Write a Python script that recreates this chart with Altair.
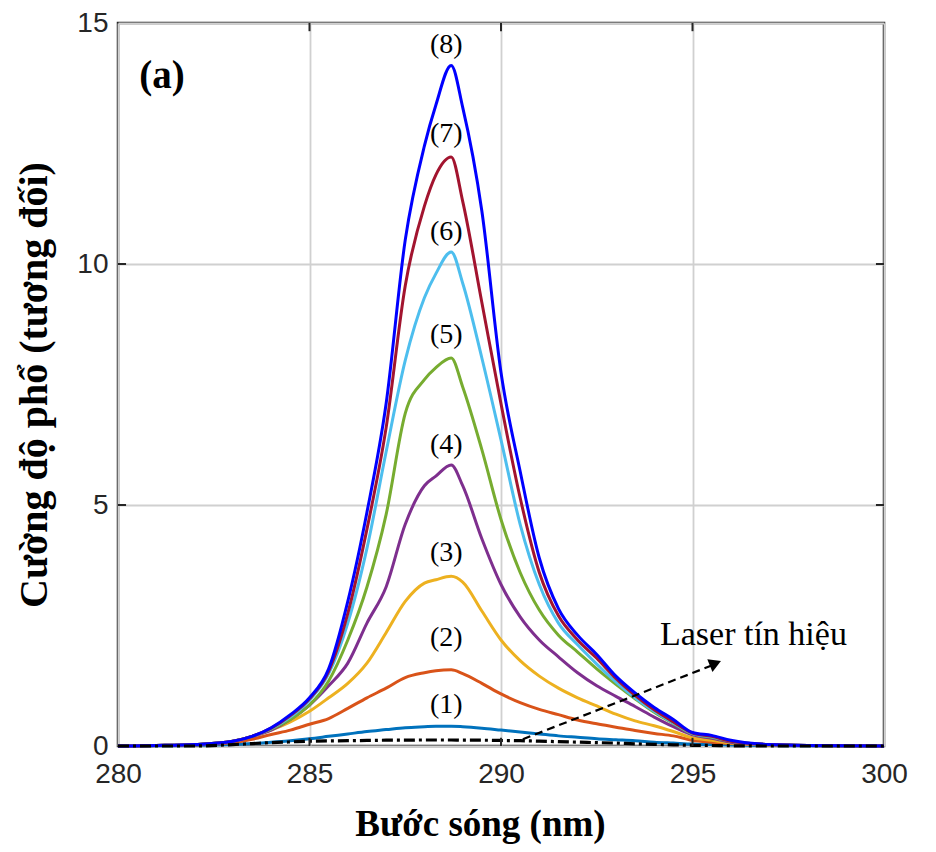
import altair as alt
import pandas as pd

# ---------------- data ----------------
wavelength = [280, 281, 282, 283, 283.5, 284, 284.5, 285, 285.5, 286, 286.5, 287, 287.5,
              288, 288.3, 288.7, 289, 289.5, 290, 290.5, 291, 291.5, 292, 292.5, 293,
              293.5, 294, 294.5, 295, 295.5, 296, 297, 298, 300]

c1 = [0, 0.005, 0.01, 0.03, 0.05, 0.08, 0.11, 0.15, 0.2, 0.25, 0.3, 0.34, 0.38,
      0.4, 0.41, 0.41, 0.4, 0.37, 0.33, 0.29, 0.25, 0.21, 0.18, 0.15, 0.13,
      0.11, 0.08, 0.06, 0.04, 0.03, 0.02, 0.01, 0.005, 0]
c2 = [0, 0.01, 0.02, 0.07, 0.14, 0.24, 0.33, 0.45, 0.57, 0.78, 1.0, 1.2, 1.42,
      1.52, 1.56, 1.58, 1.5, 1.3, 1.08, 0.9, 0.76, 0.65, 0.54, 0.46, 0.39,
      0.32, 0.26, 0.21, 0.12, 0.08, 0.05, 0.02, 0.01, 0]
c3 = [0, 0.01, 0.03, 0.1, 0.2, 0.33, 0.5, 0.72, 1.0, 1.3, 1.72, 2.35, 3.0,
      3.38, 3.45, 3.52, 3.4, 2.8, 2.2, 1.77, 1.45, 1.2, 1.0, 0.83, 0.66,
      0.52, 0.42, 0.3, 0.17, 0.12, 0.06, 0.02, 0.01, 0]
c4 = [0, 0.01, 0.03, 0.1, 0.2, 0.33, 0.55, 0.85, 1.25, 1.72, 2.55, 3.3, 4.6,
      5.4, 5.6, 5.83, 5.4, 4.3, 3.35, 2.68, 2.2, 1.85, 1.52, 1.25, 1.03,
      0.82, 0.6, 0.4, 0.23, 0.16, 0.08, 0.03, 0.01, 0]
c5 = [0, 0.01, 0.03, 0.1, 0.2, 0.35, 0.55, 0.85, 1.35, 2.2, 3.3, 4.8, 6.9,
      7.6, 7.85, 8.05, 7.45, 6.15, 4.7, 3.6, 2.82, 2.3, 1.95, 1.6, 1.28,
      0.98, 0.7, 0.47, 0.25, 0.18, 0.1, 0.03, 0.01, 0]
c6 = [0, 0.01, 0.03, 0.1, 0.2, 0.36, 0.6, 0.95, 1.5, 2.55, 4.1, 6.1, 8.0,
      9.3, 9.8, 10.25, 9.6, 8.05, 6.35, 4.6, 3.35, 2.55, 2.1, 1.7, 1.33,
      1.0, 0.72, 0.48, 0.26, 0.19, 0.1, 0.03, 0.01, 0]
c7 = [0, 0.01, 0.03, 0.1, 0.2, 0.37, 0.63, 0.98, 1.55, 2.75, 4.5, 6.6, 9.55,
      11.2, 11.85, 12.22, 11.3, 9.2, 7.1, 5.15, 3.6, 2.7, 2.2, 1.82, 1.4,
      1.05, 0.75, 0.5, 0.27, 0.2, 0.1, 0.03, 0.01, 0]
c8 = [0, 0.01, 0.03, 0.1, 0.2, 0.38, 0.65, 1.0, 1.6, 3.0, 4.85, 7.1, 10.5,
      12.45, 13.3, 14.12, 13.25, 11.1, 7.75, 5.7, 3.9, 2.85, 2.3, 1.9, 1.45,
      1.1, 0.8, 0.55, 0.28, 0.22, 0.12, 0.03, 0.01, 0]
laser = [0, 0, 0, 0.03, 0.05, 0.07, 0.085, 0.1, 0.105, 0.11, 0.115, 0.12, 0.12,
         0.125, 0.125, 0.125, 0.12, 0.12, 0.115, 0.11, 0.1, 0.09, 0.08, 0.07, 0.06,
         0.045, 0.035, 0.025, 0.015, 0.01, 0.005, 0, 0, 0]

series_names = ["1", "2", "3", "4", "5", "6", "7", "8"]
series_colors = ["#0072BD", "#D95319", "#EDB120", "#7E2F8E", "#77AC30", "#4DBEEE", "#A2142F", "#0000FF"]
series_values = [c1, c2, c3, c4, c5, c6, c7, c8]

label_texts = ["(1)", "(2)", "(3)", "(4)", "(5)", "(6)", "(7)", "(8)"]
label_x = [288.57] * 8
label_y = [0.845, 2.25, 4.0, 6.24, 8.53, 10.67, 12.69, 14.55]

x_ticks = [280, 285, 290, 295, 300]
y_ticks = [0, 5, 10, 15]

arrow_x = [290.57, 295.5]
arrow_y = [0.14, 1.67]
arrow_head = [295.55, 1.70]
annot_text = "Laser tín hiệu"
annot_pos = [294.15, 2.3]
panel_text = "(a)"
panel_pos = [281.15, 13.9]

# ---------------- build tables ----------------
rows = []
for name, vals in zip(series_names, series_values):
    for w, v in zip(wavelength, vals):
        rows.append({"w": w, "v": v, "s": name})
df = pd.DataFrame(rows)
df_laser = pd.DataFrame({"w": wavelength, "v": laser})
df_labels = pd.DataFrame({"w": label_x, "v": label_y, "t": label_texts})

SERIF = "Liberation Serif"
SANS = "Liberation Sans"
FRAME = "#262626"

xs = alt.Scale(domain=[280, 300], nice=False, zero=False)
ys = alt.Scale(domain=[0, 15], nice=False)

x_axis = alt.Axis(values=x_ticks, tickSize=0, domain=False, grid=True, gridColor="#d0d0d0",
                  gridWidth=1.8, labelFont=SANS, labelFontSize=28, labelColor=FRAME,
                  labelPadding=14, labelFlush=False, title="Bước sóng (nm)", titleFont=SERIF,
                  titleFontSize=37, titleFontWeight="bold", titleColor="black", titlePadding=18,
                  titleX=362)
y_axis = alt.Axis(values=y_ticks, tickSize=0, domain=False, grid=True, gridColor="#d0d0d0",
                  gridWidth=1.8, labelFont=SANS, labelFontSize=28, labelColor=FRAME,
                  labelPadding=10, labelFlush=False, title="Cường độ phổ (tương đối)", titleFont=SERIF,
                  titleFontSize=40, titleFontWeight="bold", titleColor="black", titlePadding=22)

lines = alt.Chart(df).mark_line(strokeWidth=3, interpolate="monotone").encode(
    x=alt.X("w:Q", scale=xs, axis=x_axis),
    y=alt.Y("v:Q", scale=ys, axis=y_axis),
    color=alt.Color("s:N", scale=alt.Scale(domain=series_names, range=series_colors), legend=None),
    order=alt.Order("w:Q"),
)

laser_line = alt.Chart(df_laser).mark_line(
    strokeWidth=3.2, color="black", strokeDash=[11, 4, 3, 4], interpolate="monotone"
).encode(x=alt.X("w:Q", scale=xs), y=alt.Y("v:Q", scale=ys))

labels = alt.Chart(df_labels).mark_text(font=SERIF, fontSize=28, color="black").encode(
    x=alt.X("w:Q", scale=xs), y=alt.Y("v:Q", scale=ys), text="t:N"
)

# inward ticks like MATLAB (box on)
xt_in = [t for t in x_ticks[1:-1]]
yt_in = [t for t in y_ticks[1:-1]]
tick_len_y = 0.17   # data units (~8 px)
tick_len_x = 0.21
df_xt = pd.DataFrame({"w": xt_in * 2, "v": [0] * len(xt_in) + [15] * len(xt_in),
                      "v2": [tick_len_y] * len(xt_in) + [15 - tick_len_y] * len(xt_in)})
df_yt = pd.DataFrame({"v": yt_in * 2, "w": [280] * len(yt_in) + [300] * len(yt_in),
                      "w2": [280 + tick_len_x] * len(yt_in) + [300 - tick_len_x] * len(yt_in)})
xt_marks = alt.Chart(df_xt).mark_rule(color=FRAME, strokeWidth=2).encode(
    x=alt.X("w:Q", scale=xs), y=alt.Y("v:Q", scale=ys), y2="v2:Q")
yt_marks = alt.Chart(df_yt).mark_rule(color=FRAME, strokeWidth=2).encode(
    y=alt.Y("v:Q", scale=ys), x=alt.X("w:Q", scale=xs), x2="w2:Q")

df_arrow = pd.DataFrame({"w": [arrow_x[0]], "v": [arrow_y[0]], "w2": [arrow_x[1]], "v2": [arrow_y[1]]})
arrow = alt.Chart(df_arrow).mark_rule(color="black", strokeWidth=2.2, strokeDash=[8, 5]).encode(
    x=alt.X("w:Q", scale=xs), y=alt.Y("v:Q", scale=ys), x2="w2:Q", y2="v2:Q")
head = alt.Chart(pd.DataFrame({"w": [arrow_head[0]], "v": [arrow_head[1]]})).mark_point(
    shape="triangle", filled=True, color="black", size=190, angle=68, opacity=1
).encode(x=alt.X("w:Q", scale=xs), y=alt.Y("v:Q", scale=ys))

annot = alt.Chart(pd.DataFrame({"w": [annot_pos[0]], "v": [annot_pos[1]], "t": [annot_text]})).mark_text(
    font=SERIF, fontSize=34, color="black", align="left", baseline="middle"
).encode(x=alt.X("w:Q", scale=xs), y=alt.Y("v:Q", scale=ys), text="t:N")

panel = alt.Chart(pd.DataFrame({"w": [panel_pos[0]], "v": [panel_pos[1]], "t": [panel_text]})).mark_text(
    font=SERIF, fontSize=39, fontWeight="bold", color="black", align="center", baseline="middle"
).encode(x=alt.X("w:Q", scale=xs), y=alt.Y("v:Q", scale=ys), text="t:N")

chart = alt.layer(lines, laser_line, arrow, head, labels, annot, panel, xt_marks, yt_marks).properties(
    width=766, height=723,
    autosize=alt.AutoSizeParams(type="none"),
    padding={"left": 110, "top": 15, "right": 40, "bottom": 104},
    background="white",
).configure_view(stroke=FRAME, strokeWidth=2.5)

chart.save("out.html", embed_options={"renderer": "svg", "actions": False})
